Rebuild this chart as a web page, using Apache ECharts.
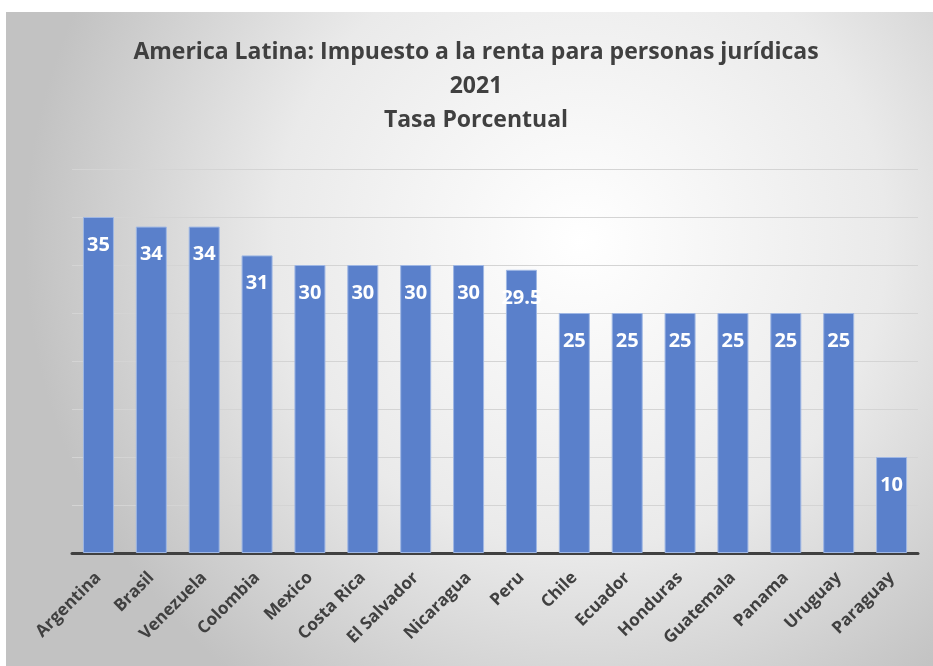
<!DOCTYPE html>
<html>
<head>
<meta charset="utf-8">
<script src="https://cdn.jsdelivr.net/npm/echarts@6/dist/echarts.min.js"></script>
<style>
html,body{margin:0;padding:0;background:#ffffff;width:933px;height:666px;overflow:hidden;}
#chart{position:absolute;left:6px;top:12px;width:927px;height:654px;}
</style>
</head>
<body>
<div id="chart"></div>
<script>
const categories = ['Argentina','Brasil','Venezuela','Colombia','Mexico','Costa Rica','El Salvador','Nicaragua','Peru','Chile','Ecuador','Honduras','Guatemala','Panama','Uruguay','Paraguay'];
const values = [35, 34, 34, 31, 30, 30, 30, 30, 29.5, 25, 25, 25, 25, 25, 25, 10];
const titleLines = ['America Latina: Impuesto a la renta para personas jurídicas', '2021', 'Tasa Porcentual'];

const chart = echarts.init(document.getElementById('chart'), null, {renderer:'canvas'});
chart.setOption({
  backgroundColor: {
    type: 'radial', x: 0.62, y: 0.35, r: 0.85,
    colorStops: [{offset: 0, color: '#ffffff'}, {offset: 0.55, color: '#eaeaea'}, {offset: 1, color: '#c2c2c2'}]
  },
  animation: false,
  title: {
    text: titleLines.join('\n'),
    left: 465,
    textAlign: 'center',
    top: 18,
    textStyle: {fontFamily: 'Open Sans', fontWeight: 'bold', fontSize: 23, lineHeight: 34, color: '#404040'}
  },
  grid: {left: 66, right: 15, top: 157, bottom: 113},
  xAxis: {
    type: 'category',
    data: categories,
    axisLine: {lineStyle: {color: '#404040', width: 3}},
    axisTick: {show: false},
    axisLabel: {interval: 0, rotate: 45, margin: 22, color: '#404040', fontFamily: 'Open Sans', fontWeight: 'bold', fontSize: 17}
  },
  yAxis: {
    type: 'value', min: 0, max: 40, interval: 5,
    axisLabel: {show: false},
    axisLine: {show: false},
    axisTick: {show: false},
    splitLine: {lineStyle: {color: '#d4d4d4', width: 1}}
  },
  series: [{
    type: 'bar',
    data: values,
    barWidth: 31,
    itemStyle: {color: '#5a80cb', borderColor: '#9fb7e4', borderWidth: 1},
    label: {
      show: true, position: 'insideTop', distance: 18,
      color: '#ffffff', fontFamily: 'Open Sans', fontWeight: 'bold', fontSize: 20
    }
  }]
});
</script>
</body>
</html>
